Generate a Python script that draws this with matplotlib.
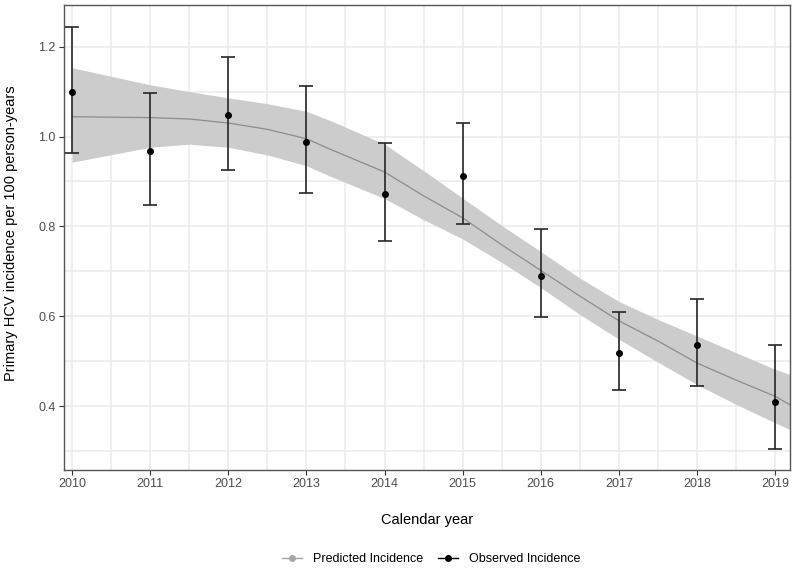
import numpy as np
import matplotlib
matplotlib.use('Agg')
import matplotlib.pyplot as plt
from matplotlib.lines import Line2D

plt.rcParams['font.family'] = ['Liberation Sans', 'DejaVu Sans']

# observed incidence with 95% CI
years = [2010, 2011, 2012, 2013, 2014, 2015, 2016, 2017, 2018, 2019]
observed = [1.099, 0.967, 1.047, 0.988, 0.872, 0.913, 0.690, 0.518, 0.536, 0.409]
obs_low = [0.964, 0.847, 0.926, 0.874, 0.768, 0.806, 0.598, 0.436, 0.444, 0.304]
obs_high = [1.244, 1.096, 1.176, 1.113, 0.985, 1.031, 0.794, 0.610, 0.638, 0.536]

# predicted incidence (smooth) with confidence band
pred_x = [2010, 2011, 2011.5, 2012, 2012.5, 2013, 2013.3, 2014, 2014.5, 2015,
          2015.5, 2016, 2016.5, 2017, 2017.5, 2018, 2018.5, 2019, 2019.2]
pred_y = [1.044, 1.042, 1.039, 1.030, 1.016, 0.995, 0.972, 0.921, 0.868, 0.819,
          0.759, 0.702, 0.645, 0.590, 0.545, 0.496, 0.458, 0.422, 0.402]
pred_low = [0.943, 0.976, 0.983, 0.976, 0.959, 0.935, 0.912, 0.862, 0.815, 0.772,
            0.720, 0.664, 0.604, 0.549, 0.498, 0.448, 0.404, 0.363, 0.347]
pred_high = [1.153, 1.115, 1.100, 1.086, 1.073, 1.056, 1.036, 0.983, 0.924, 0.863,
             0.802, 0.744, 0.685, 0.633, 0.593, 0.556, 0.519, 0.482, 0.470]

fig = plt.figure(figsize=(7.96, 5.70), dpi=100)
ax = fig.add_axes([64/796, 1 - 470/570, (790 - 64)/796, (470 - 5)/570])

grid_col = '#EBEBEB'
for v in np.arange(2009.5, 2020, 0.5):
    ax.axvline(v, color=grid_col, lw=1.1, zorder=0)
for v in np.arange(0.3, 1.35, 0.1):
    ax.axhline(v, color=grid_col, lw=1.1, zorder=0)

ax.fill_between(pred_x, pred_low, pred_high, color='#CCCCCC', lw=0, zorder=1)
ax.plot(pred_x, pred_y, color='#8C8C8C', lw=0.9, zorder=2)

obs = np.array(observed)
yerr = [obs - np.array(obs_low), np.array(obs_high) - obs]
ax.errorbar(years, observed, yerr=yerr, fmt='none', ecolor='#262626',
            elinewidth=1.2, capsize=5.2, capthick=1.2, zorder=3)
ax.plot(years, observed, 'o', color='black', ms=4, zorder=4)

ax.set_xlim(2009.897, 2019.19)
ax.set_ylim(0.258, 1.2926)
ax.set_xticks(years)
ax.set_yticks([0.4, 0.6, 0.8, 1.0, 1.2])
ax.set_yticklabels(['0.4', '0.6', '0.8', '1.0', '1.2'])
ax.tick_params(axis='both', direction='out', length=3.5, width=0.8,
               color='#333333', labelcolor='#4D4D4D', labelsize=9, pad=2.5)
for s in ax.spines.values():
    s.set_color('#555555')
    s.set_linewidth(1.0)

ax.set_xlabel('Calendar year', fontsize=10.5, color='black', labelpad=16)
ax.set_ylabel('Primary HCV incidence per 100 person-years', fontsize=10.5,
              color='black')
ax.yaxis.set_label_coords(-0.064, 0.51)

handles = [
    Line2D([0], [0], color='#A6A6A6', lw=1.0, marker='o', ms=4),
    Line2D([0], [0], color='black', lw=1.0, marker='o', ms=4),
]
fig.legend(handles, ['Predicted Incidence', 'Observed Incidence'],
           loc='center', bbox_to_anchor=(431/796, 1 - 559/570), ncol=2,
           frameon=False, fontsize=9, handlelength=1.6, handletextpad=0.9,
           columnspacing=1.2)

fig.savefig('out.png', dpi=100)
